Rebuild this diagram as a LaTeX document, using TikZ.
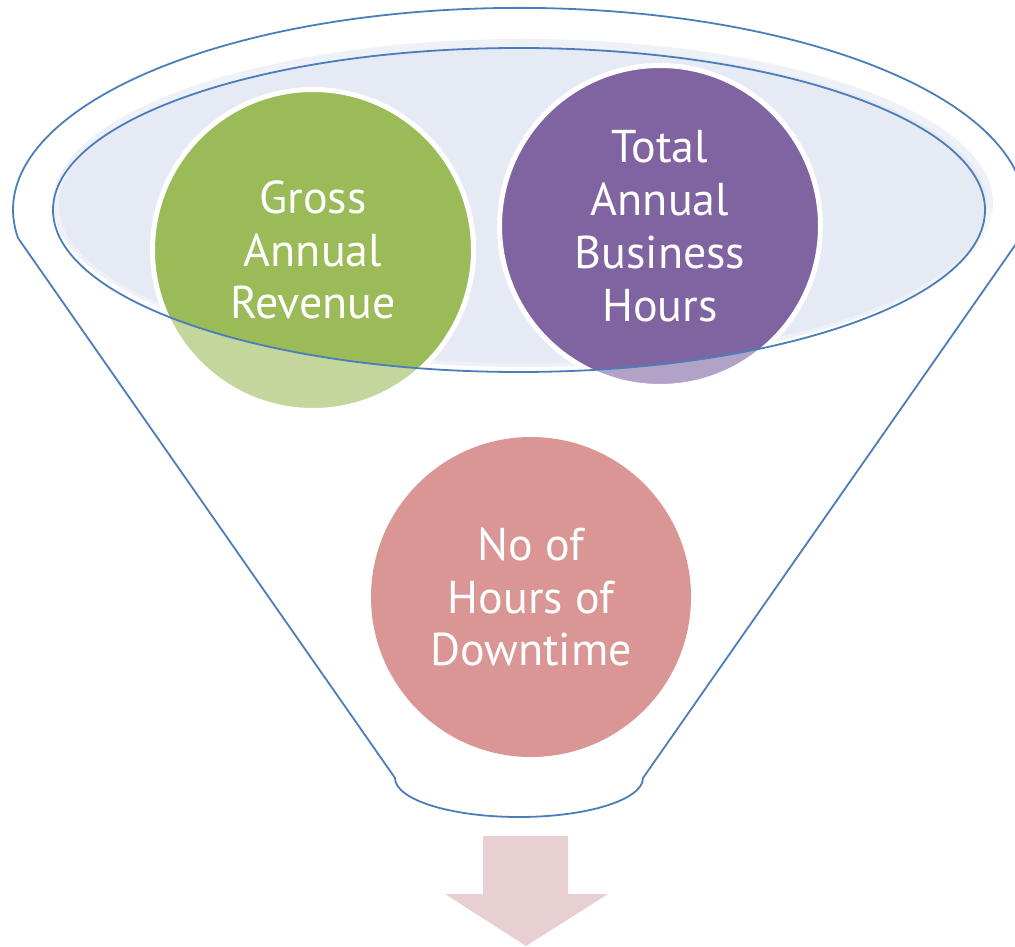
\documentclass[tikz,border=0pt]{standalone}
\usepackage{fontspec}
\setmainfont{PT Sans}
\definecolor{fblue}{HTML}{4A7EBB}
\definecolor{rimfill}{HTML}{E6EAF4}
\definecolor{rimhalo}{HTML}{EFF1F8}
\definecolor{cgreen}{HTML}{9BBB59}
\definecolor{cpurple}{HTML}{8064A2}
\definecolor{cred}{HTML}{C0504D}
\definecolor{arrowfill}{HTML}{E8D0D2}
\begin{document}
\begin{tikzpicture}[x=0.5pt,y=-0.5pt,
  bubble/.style={circle, inner sep=0pt, minimum size=160.5pt, text=white, align=center,
    font=\fontsize{23}{26.4}\selectfont},
  outline/.style={draw=fblue, line width=0.9pt, line join=round}]
\useasboundingbox (0,0) rectangle (1015,946);
% rim fill
\fill[rimhalo] (523,203) ellipse [x radius=470, y radius=164];
\fill[rimfill] (523,205) ellipse [x radius=464, y radius=158];
% circles
\node[bubble, fill=cgreen, draw=white, line width=2.5pt] (gross) at (313,250) {Gross\\Annual\\Revenue};
\node[bubble, fill=cpurple, draw=white, line width=2.5pt] (total) at (660,226) {Total\\Annual\\Business\\Hours};
\node[bubble, fill=cred, minimum size=160pt] (down) at (531,597) {No of\\Hours of\\Downtime};
% translucent front of funnel
\begin{scope}
\clip (0,210) rectangle (1015,946);
\fill[white, fill opacity=0.4, even odd rule]
  (18,238) arc[start angle=172, end angle=368, x radius=506, y radius=202]
  -- (643,778) arc[start angle=0, end angle=180, x radius=124, y radius=39] -- cycle
  (519,210) ellipse [x radius=466, y radius=162];
\end{scope}
% outlines
\draw[outline] (519,210) ellipse [x radius=466, y radius=162];
\draw[outline] (18,238) arc[start angle=172, end angle=368, x radius=506, y radius=202]
  -- (643,778) arc[start angle=0, end angle=180, x radius=124, y radius=39] -- cycle;
% output arrow
\fill[arrowfill] (483,836) -- (568,836) -- (568,894) -- (608,894) -- (526,946)
  -- (445,894) -- (483,894) -- cycle;
\end{tikzpicture}
\end{document}
